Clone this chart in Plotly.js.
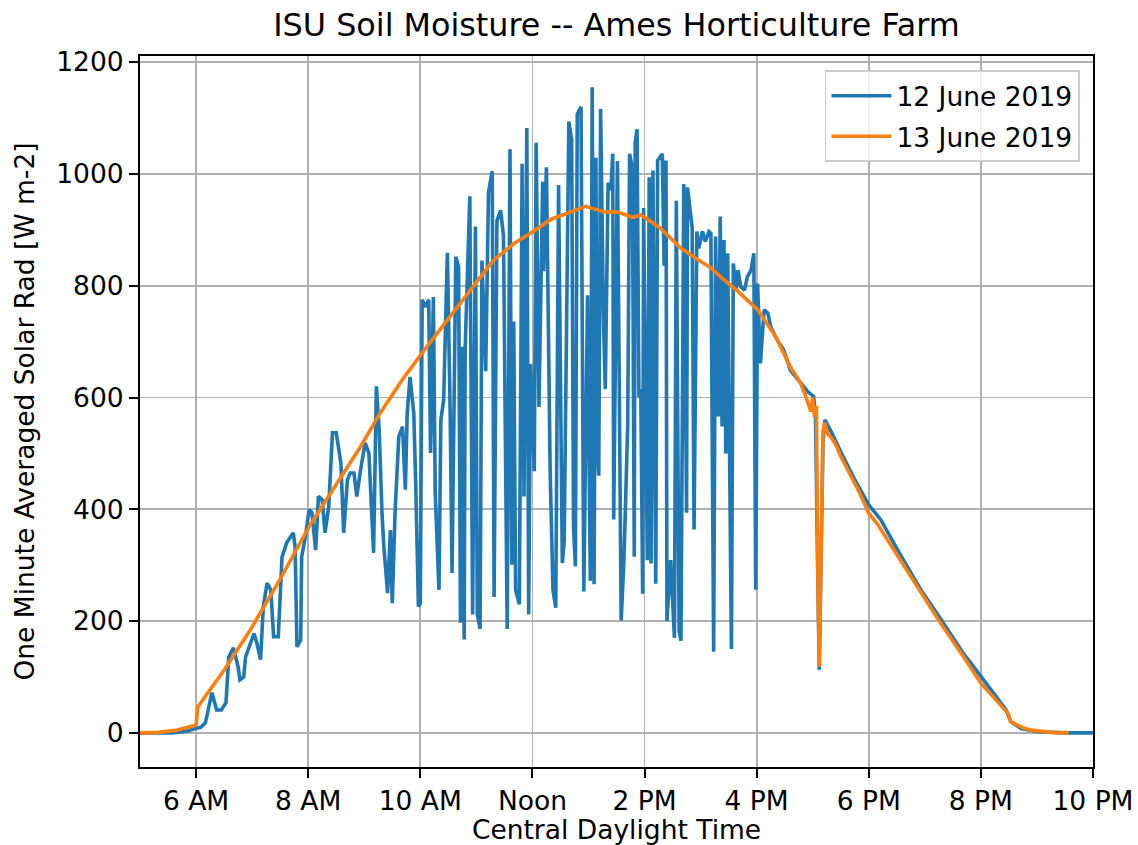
<!DOCTYPE html>
<html>
<head>
<meta charset="utf-8">
<script src="https://cdn.plot.ly/plotly-3.0.1.min.js"></script>
<style>
  html, body { margin: 0; padding: 0; background: #ffffff; }
  #chart { width: 1138px; height: 845px; }
</style>
</head>
<body>
<div id="chart"></div>
<script>
// ---- Data ----
const dayDate = "2019-06-13";

const blueName = "12 June 2019";
const blueTimes = [
  "05:00","05:15","05:34","05:45","05:52","05:59","06:05","06:10","06:15","06:17",
  "06:22","06:27","06:32","06:35","06:40","06:45","06:47","06:51","06:53","06:58",
  "07:02","07:05","07:09","07:12","07:16","07:20","07:23","07:28","07:32","07:37",
  "07:44","07:46","07:48","07:52","07:53","07:57","08:01","08:04","08:08","08:11",
  "08:15","08:18","08:22","08:26","08:30","08:35","08:38","08:42","08:45","08:49",
  "08:52","08:56","09:01","09:05","09:08","09:10","09:13","09:16","09:19","09:21",
  "09:25","09:28","09:30","09:33","09:37","09:41","09:44","09:46","09:49","09:53",
  "09:55","09:58","10:00","10:02","10:06","10:09","10:11","10:14","10:16","10:20",
  "10:22","10:25","10:29","10:32","10:34","10:38","10:41","10:43","10:45","10:47",
  "10:48","10:53","10:56","10:59","11:01","11:04","11:06","11:10","11:13","11:17",
  "11:19","11:22","11:26","11:29","11:33","11:36","11:38","11:40","11:42","11:46",
  "11:49","11:51","11:54","11:56","11:58","12:02","12:04","12:07","12:11","12:12",
  "12:15","12:18","12:19","12:22","12:25","12:28","12:32","12:34","12:39","12:42",
  "12:44","12:46","12:48","12:52","12:55","12:59","13:02","13:04","13:06","13:08",
  "13:09","13:11","13:13","13:16","13:18","13:21","13:24","13:26","13:27","13:31",
  "13:34","13:35","13:38","13:42","13:44","13:47","13:49","13:50","13:52","13:54",
  "13:56","13:58","13:59","14:03","14:05","14:07","14:09","14:12","14:14","14:19",
  "14:21","14:23","14:24","14:28","14:32","14:34","14:37","14:39","14:42","14:45",
  "14:46","14:49","14:51","14:53","14:56","14:58","15:02","15:05","15:09","15:11",
  "15:14","15:16","15:19","15:21","15:23","15:25","15:27","15:29","15:31","15:33",
  "15:35","15:38","15:40","15:43","15:47","15:50","15:54","15:57","15:59","16:01",
  "16:04","16:08","16:12","16:15","16:22","16:29","16:36","16:47","16:55","17:01",
  "17:03","17:05","17:07","17:09","17:11","17:13","17:20","17:30","17:45","18:00",
  "18:13","18:34","18:55","19:20","19:40","20:00","20:15","20:27","20:32","20:43",
  "21:01","21:30","22:00"
];
const blueValues = [
  0,0,0,2,4,8,10,18,54,72,
  41,41,54,136,152,118,95,100,136,160,
  178,161,131,226,268,256,172,172,315,340,
  358,333,154,166,315,351,399,394,327,423,
  417,358,405,537,537,483,358,453,465,465,
  423,470,519,500,394,322,620,542,394,333,
  250,363,232,394,530,548,435,572,637,572,
  453,226,232,775,762,775,501,780,429,256,
  560,596,859,572,286,852,834,197,691,167,
  685,960,212,906,212,186,845,647,967,1005,
  243,916,935,890,186,1044,301,736,256,230,
  1018,423,1082,212,660,468,1056,583,986,826,
  1012,557,468,256,224,980,304,343,1094,1061,
  369,298,1107,1120,253,783,272,1155,266,1029,
  531,460,1116,744,615,984,971,1036,382,1023,
  376,201,311,550,1036,1010,315,1055,1080,600,
  615,249,939,309,994,303,1006,267,1024,1036,
  836,1024,200,309,170,952,182,165,982,394,
  976,933,903,364,897,867,897,879,897,894,
  145,888,566,924,548,882,500,858,560,150,
  840,792,828,798,792,816,828,858,256,804,
  661,757,751,727,703,685,649,626,610,602,
  570,330,113,320,520,560,538,503,453,408,
  381,318,258,196,145,101,68,41,20,8,
  2,0,0
];

const orangeName = "13 June 2019";
const orangeTimes = [
  "05:00","05:20","05:40","05:55","06:00","06:02","06:30","06:58","07:30","08:01",
  "08:30","08:56","09:17","09:40","10:02","10:30","10:54","11:18","11:40","12:00",
  "12:20","12:40","12:57","13:17","13:31","13:48","13:56","14:17","14:39","14:56",
  "15:11","15:22","15:40","16:01","16:20","16:36","16:47","16:52","16:55","16:58",
  "17:00","17:02","17:04","17:05","17:07","17:09","17:11","17:13","17:16","17:20",
  "17:25","17:30","17:40","17:50","18:00","18:10","18:34","18:55","19:17","19:40",
  "20:00","20:20","20:29","20:32","20:45","20:54","21:15","21:34"
];
const orangeValues = [
  0,1,5,11,14,47,112,184,275,369,
  445,512,572,630,680,740,792,845,875,896,
  919,932,942,932,932,922,927,903,867,848,
  832,815,790,757,710,655,626,605,590,575,
  600,565,585,350,118,330,540,555,535,528,
  515,495,462,430,393,372,309,255,196,140,
  89,52,35,20,9,5,1,0
];

// Axis ticks
const tickTimes = ["06:00","08:00","10:00","12:00","14:00","16:00","18:00","20:00","22:00"];
const tickLabels = ["6 AM","8 AM","10 AM","Noon","2 PM","4 PM","6 PM","8 PM","10 PM"];
const yTickVals = [0,200,400,600,800,1000,1200];

const chartTitle = "ISU Soil Moisture -- Ames Horticulture Farm";
const xTitle = "Central Daylight Time";
const yTitle = "One Minute Averaged Solar Rad [W m-2]";

// ---- Build traces ----
const toDate = t => dayDate + " " + t;
const FONT = "DejaVu Sans, Liberation Sans, sans-serif";
const FS = 26.5;

const traces = [
  {
    x: blueTimes.map(toDate), y: blueValues, name: blueName, legendgroup: "a",
    type: "scatter", mode: "lines",
    line: { color: "#1f77b4", width: 3.6 }
  },
  {
    x: orangeTimes.map(toDate), y: orangeValues, name: orangeName, legendgroup: "b",
    type: "scatter", mode: "lines",
    line: { color: "#ff7f0e", width: 3.6 }
  }
];

const layout = {
  width: 1138, height: 845,
  paper_bgcolor: "#ffffff", plot_bgcolor: "#ffffff",
  margin: { l: 140, r: 45, t: 56, b: 78, autoexpand: false },
  font: { family: FONT, size: FS, color: "#000000" },
  title: {
    text: chartTitle, font: { family: FONT, size: 31.8, color: "#000000" },
    x: 0.5, xref: "paper", xanchor: "center", y: 0.971, yanchor: "middle"
  },
  showlegend: true,
  legend: {
    x: 0.986, y: 0.98, xanchor: "right", yanchor: "top",
    bgcolor: "rgba(255,255,255,0.8)", bordercolor: "#cccccc", borderwidth: 1.8,
    itemwidth: 60, tracegroupgap: 3,
    font: { family: FONT, size: FS, color: "#000000" }
  },
  xaxis: {
    type: "date",
    range: [toDate("05:00"), toDate("22:00")],
    tickvals: tickTimes.map(toDate), ticktext: tickLabels,
    showgrid: true, gridcolor: "#b0b0b0", gridwidth: 1.8,
    showline: true, linecolor: "#000000", linewidth: 2, mirror: true,
    ticks: "outside", ticklen: 9, tickwidth: 2, tickcolor: "#000000",
    zeroline: false, automargin: false,
    tickfont: { family: FONT, size: FS, color: "#000000" },
    title: { text: xTitle, font: { family: FONT, size: FS, color: "#000000" }, standoff: 5 }
  },
  yaxis: {
    range: [-61, 1211],
    tickvals: yTickVals,
    showgrid: true, gridcolor: "#b0b0b0", gridwidth: 1.8,
    showline: true, linecolor: "#000000", linewidth: 2, mirror: true,
    ticks: "outside", ticklen: 9, tickwidth: 2, tickcolor: "#000000",
    zeroline: false, automargin: false,
    tickfont: { family: FONT, size: FS, color: "#000000" },
    title: { text: yTitle, font: { family: FONT, size: FS, color: "#000000" }, standoff: 14 }
  }
};

Plotly.newPlot("chart", traces, layout, { displayModeBar: false, staticPlot: true });
</script>
</body>
</html>
